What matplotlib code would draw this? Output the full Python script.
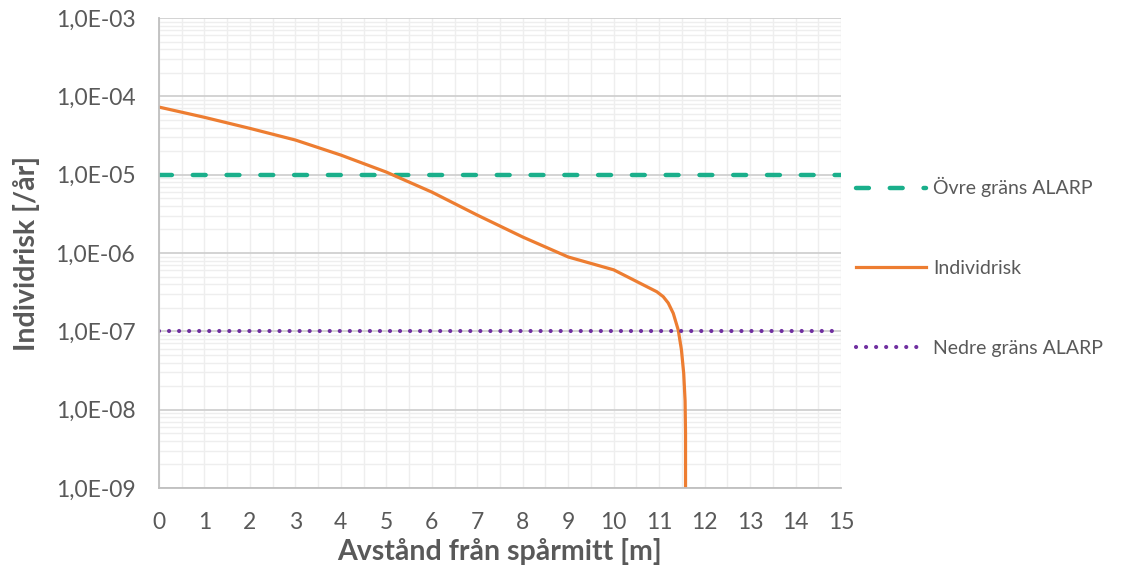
import matplotlib
matplotlib.use("Agg")
import matplotlib.pyplot as plt
from matplotlib.ticker import FixedLocator, FuncFormatter, MultipleLocator

# Data
distance_m = [0, 1, 2, 3, 4, 5, 6, 7, 8, 9, 10, 10.95, 11.09, 11.2, 11.31, 11.42,
              11.49, 11.54, 11.57, 11.58, 11.58]
individrisk = [7.3e-5, 5.4e-5, 3.9e-5, 2.77e-5, 1.78e-5, 1.08e-5, 6.0e-6, 3.05e-6, 1.6e-6,
               8.9e-7, 6.1e-7, 3.2e-7, 2.77e-7, 2.3e-7, 1.7e-7, 1.04e-7,
               5.8e-8, 2.9e-8, 1.3e-8, 5e-9, 1.05e-9]
ovre_grans = 1e-5
nedre_grans = 1e-7
x_limits = [0, 15]
y_limits = [1e-9, 1e-3]
y_ticks = [1e-9, 1e-8, 1e-7, 1e-6, 1e-5, 1e-4, 1e-3]

plt.rcParams['font.family'] = ['Lato', 'DejaVu Sans']
grey = '#595959'

fig = plt.figure(figsize=(11.25, 5.74), dpi=100)
ax = fig.add_axes([0.1413, 0.1498, 0.6063, 0.8188])

ax.set_yscale('log')
ax.set_xlim(*x_limits)
ax.set_ylim(*y_limits)

l1, = ax.plot(x_limits, [ovre_grans, ovre_grans], color='#1AAF8B', lw=3.2,
              dashes=(2.9, 4.7), dash_capstyle='round',
              label='Övre gräns ALARP')
l2, = ax.plot(distance_m, individrisk, color='#ED7D31', lw=2.3, label='Individrisk',
              solid_joinstyle='round')
l3, = ax.plot(x_limits, [nedre_grans, nedre_grans], color='#7030A0', lw=3.0,
              dashes=(0.01, 2.4), dash_capstyle='round', label='Nedre gräns ALARP')

ax.yaxis.set_major_locator(FixedLocator(y_ticks))
ax.yaxis.set_major_formatter(FuncFormatter(lambda v, p: ('%.1E' % v).replace('.', ',')))
ax.xaxis.set_major_locator(MultipleLocator(1))
ax.xaxis.set_minor_locator(MultipleLocator(0.5))

ax.grid(True, which='major', axis='y', color='#d0d0d0', lw=1.3)
ax.grid(True, which='minor', axis='y', color='#eeeeee', lw=1.0)
ax.grid(True, which='both', axis='x', color='#eeeeee', lw=1.0)
ax.set_axisbelow(True)

for s in ['top', 'right']:
    ax.spines[s].set_visible(False)
for s in ['left', 'bottom']:
    ax.spines[s].set_color('#bfbfbf')
    ax.spines[s].set_linewidth(1.3)

ax.tick_params(axis='both', which='both', length=0, labelsize=16.5, colors=grey)
ax.tick_params(axis='x', pad=17)
ax.tick_params(axis='y', pad=17)

ax.set_xlabel('Avstånd från spårmitt [m]', fontsize=20.5, fontweight='bold', color=grey, labelpad=4)
ax.set_ylabel('Individrisk [/år]', fontsize=20.5, fontweight='bold', color=grey, labelpad=11)

leg = fig.legend(handles=[l1, l2, l3], loc='center left', bbox_to_anchor=(0.745, 0.535),
                 frameon=False, fontsize=14, labelcolor=grey, handlelength=3.6,
                 handletextpad=0.4, labelspacing=3.22)

fig.savefig('out.png', dpi=100)
